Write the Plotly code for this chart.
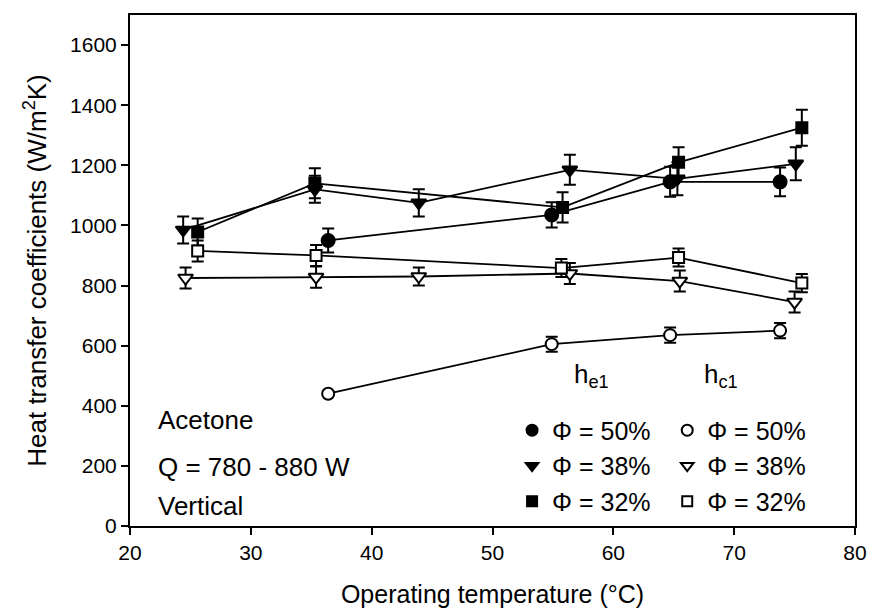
import plotly.graph_objects as go

# Operating temperature (°C) and heat transfer coefficients (W/m²K)
# Evaporator (h_e1), filled symbols
he_50_x = [36.4, 54.9, 64.7, 73.8]
he_50_y = [950, 1035, 1145, 1145]
he_50_err = [40, 42, 50, 48]

he_38_x = [24.4, 35.3, 43.9, 56.4, 65.3, 75.1]
he_38_y = [985, 1120, 1075, 1185, 1155, 1205]
he_38_err = [45, 45, 45, 50, 55, 55]

he_32_x = [25.6, 35.3, 55.8, 65.4, 75.6]
he_32_y = [978, 1140, 1060, 1210, 1325]
he_32_err = [45, 50, 50, 50, 60]

# Condenser (h_c1), open symbols
hc_50_x = [36.4, 54.9, 64.7, 73.8]
hc_50_y = [440, 605, 635, 650]
hc_50_err = [8, 25, 25, 25]

hc_38_x = [24.6, 35.4, 43.9, 56.4, 65.5, 75.0]
hc_38_y = [825, 828, 830, 840, 815, 745]
hc_38_err = [35, 35, 30, 35, 35, 35]

hc_32_x = [25.6, 35.4, 55.7, 65.4, 75.6]
hc_32_y = [915, 900, 858, 893, 808]
hc_32_err = [35, 35, 30, 30, 30]

x_ticks = [20, 30, 40, 50, 60, 70, 80]
y_ticks = [0, 200, 400, 600, 800, 1000, 1200, 1400, 1600]

FONT = "Liberation Sans, Arial, sans-serif"

series = [
    (he_50_x, he_50_y, he_50_err, "circle", 13, True, "legend", "Φ = 50%"),
    (he_38_x, he_38_y, he_38_err, "triangle-down", 13, True, "legend", "Φ = 38%"),
    (he_32_x, he_32_y, he_32_err, "square", 11, True, "legend", "Φ = 32%"),
    (hc_50_x, hc_50_y, hc_50_err, "circle-open", 12, False, "legend2", "Φ = 50%"),
    (hc_38_x, hc_38_y, hc_38_err, "triangle-down-open", 13, False, "legend2", "Φ = 38%"),
    (hc_32_x, hc_32_y, hc_32_err, "square-open", 11, False, "legend2", "Φ = 32%"),
]

fig = go.Figure()
for xs, ys, err, sym, size, filled, leg, name in series:
    marker = dict(symbol=sym, size=size, color="black",
                  line=dict(color="black", width=2))
    if not filled:
        marker = dict(symbol=sym.replace("-open", ""), size=size, color="white",
                      line=dict(color="black", width=2))
    fig.add_trace(go.Scatter(
        x=xs, y=ys, mode="lines+markers",
        line=dict(color="black", width=1.8),
        marker=marker,
        error_y=dict(type="data", array=err, visible=True,
                     color="black", thickness=2, width=6),
        showlegend=False, cliponaxis=False,
    ))
    # legend entry showing the symbol only
    leg_marker = dict(marker)
    leg_marker["size"] = 10 if "square" in sym else 11
    fig.add_trace(go.Scatter(
        x=[None], y=[None], mode="markers", marker=leg_marker,
        name=name, legend=leg, showlegend=True,
    ))

legend_common = dict(
    font=dict(family=FONT, size=25, color="black"),
    bgcolor="rgba(0,0,0,0)", borderwidth=0,
    yanchor="top", xanchor="left", y=0.232,
    tracegroupgap=0, itemsizing="trace",
)

fig.update_layout(
    width=879, height=616,
    margin=dict(l=130, r=15, t=15, b=86),
    paper_bgcolor="white", plot_bgcolor="white",
    font=dict(family=FONT, color="black"),
    legend=dict(x=0.527, **legend_common),
    legend2=dict(x=0.741, **legend_common),
    xaxis=dict(
        range=[20, 80], tickvals=x_ticks, ticks="outside", ticklen=7,
        tickwidth=1.5, tickcolor="black", showline=True, linewidth=2,
        linecolor="black", mirror=True, showgrid=False, zeroline=False,
        tickfont=dict(size=21, family=FONT),
        title=dict(text="Operating temperature (°C)",
                   font=dict(size=25, family=FONT), standoff=22),
    ),
    yaxis=dict(
        range=[0, 1700], tickvals=y_ticks, ticks="outside", ticklen=7,
        tickwidth=1.5, tickcolor="black", showline=True, linewidth=2,
        linecolor="black", mirror=True, showgrid=False, zeroline=False,
        tickfont=dict(size=21, family=FONT),
        title=dict(text="Heat transfer coefficients (W/m<sup>2</sup>K)",
                   font=dict(size=26, family=FONT), standoff=16),
    ),
)

# Headers above the two legend columns
fig.add_annotation(text="h<sub>e1</sub>", xref="paper", yref="paper",
                   x=0.636, y=0.258, showarrow=False,
                   font=dict(size=26, family=FONT))
fig.add_annotation(text="h<sub>c1</sub>", xref="paper", yref="paper",
                   x=0.841, y=0.258, showarrow=False,
                   font=dict(size=26, family=FONT))

# Test conditions
for txt, yp in [("Acetone", 0.207), ("Q = 780 - 880 W", 0.115), ("Vertical", 0.039)]:
    fig.add_annotation(text=txt, xref="paper", yref="paper", x=0.036, y=yp,
                       xanchor="left", yanchor="middle", showarrow=False,
                       font=dict(size=26, family=FONT))

fig.write_html("out.html")
